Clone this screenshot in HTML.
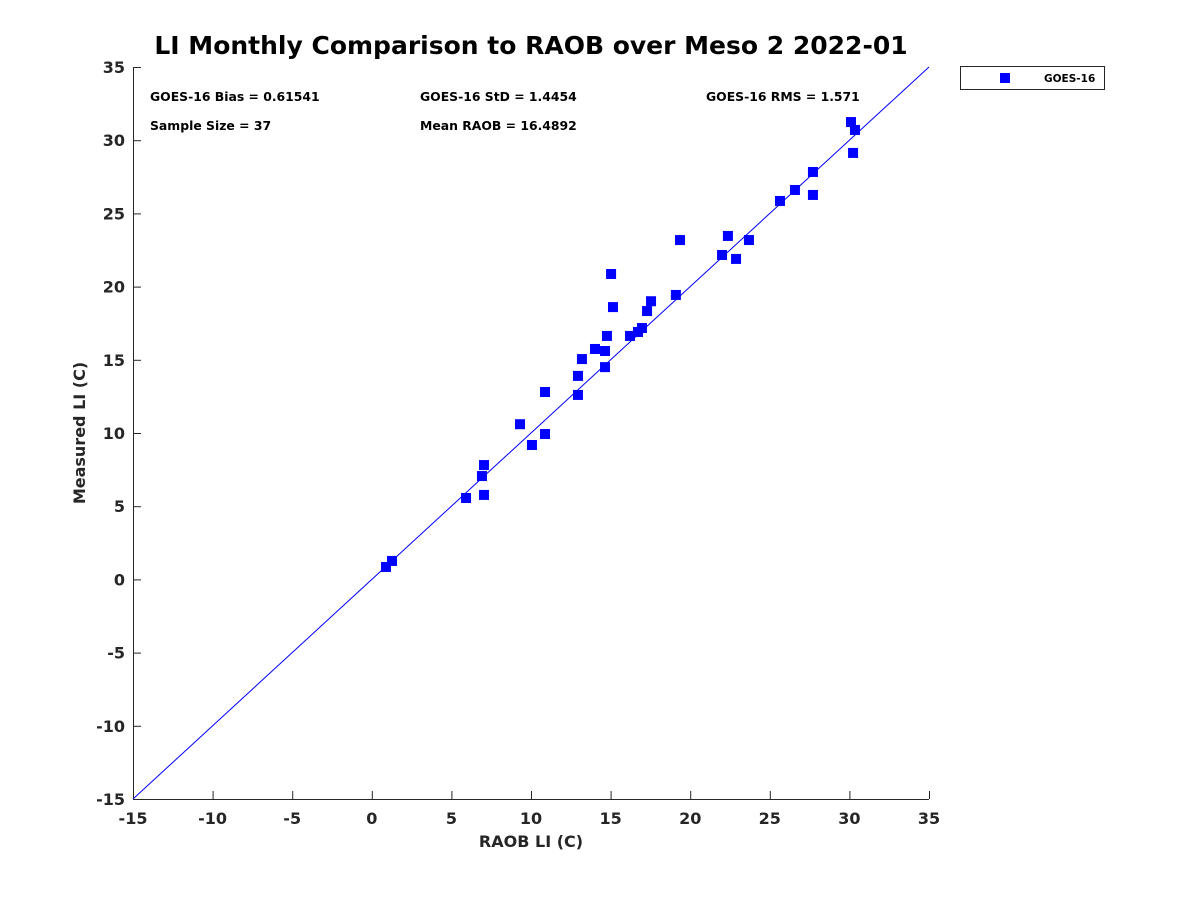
<!DOCTYPE html>
<html><head><meta charset="utf-8"><style>
body{margin:0;background:#fff;}
svg text{font-family:"DejaVu Sans","Liberation Sans",sans-serif;font-weight:bold;fill:#262626;}
</style></head><body>
<svg width="1200" height="900" viewBox="0 0 1200 900" id="chart">
<text x="531" y="54" font-size="25" text-anchor="middle" fill="#000" style="fill:#000">LI Monthly Comparison to RAOB over Meso 2 2022-01</text>
<g id="axes"></g>
<g id="marks"></g>
<text x="150" y="101" font-size="12.4" style="fill:#000">GOES-16 Bias = 0.61541</text>
<text x="420" y="101" font-size="12.4" style="fill:#000">GOES-16 StD = 1.4454</text>
<text x="706" y="101" font-size="12.4" style="fill:#000">GOES-16 RMS = 1.571</text>
<text x="150" y="130" font-size="12.4" style="fill:#000">Sample Size = 37</text>
<text x="420" y="130" font-size="12.4" style="fill:#000">Mean RAOB = 16.4892</text>
<text x="531" y="847" font-size="16" text-anchor="middle">RAOB LI (C)</text>
<text transform="translate(85,433) rotate(-90)" font-size="16" text-anchor="middle">Measured LI (C)</text>
<g>
<rect x="960.5" y="66.5" width="144" height="23" fill="#fff" stroke="#262626" stroke-width="1"/>
<rect x="1000" y="73" width="10" height="10" fill="#0000ff"/>
<text x="1044" y="82" font-size="10.5" style="fill:#000">GOES-16</text>
</g>
</svg>
<script>
const xTicks=[-15,-10,-5,0,5,10,15,20,25,30,35];
const yTicks=[-15,-10,-5,0,5,10,15,20,25,30,35];
const raob=[0.89,1.27,5.92,6.92,7.05,7.05,9.31,10.06,10.88,10.88,12.95,12.95,13.2,14.02,14.65,14.65,14.77,15.03,15.15,16.22,16.72,16.97,17.29,17.54,19.1,19.36,22.0,22.37,22.88,23.69,25.64,26.58,27.71,27.71,30.1,30.35,30.23];
const measured=[0.85,1.26,5.56,7.06,7.81,5.77,10.6,9.18,9.93,12.8,12.6,13.9,15.05,15.74,15.6,14.5,16.63,20.86,18.6,16.63,16.9,17.17,18.33,19.0,19.43,23.18,22.16,23.46,21.89,23.18,25.85,26.6,27.83,26.26,31.24,30.7,29.13];
const X0=133,X1=929,Y0=799,Y1=67,MIN=-15,MAX=35;
const sx=v=>X0+(v-MIN)/(MAX-MIN)*(X1-X0);
const sy=v=>Y0-(v-MIN)/(MAX-MIN)*(Y0-Y1);
const NS="http://www.w3.org/2000/svg";
const axes=document.getElementById('axes'),marks=document.getElementById('marks');
function mk(tag,attrs,parent){const e=document.createElementNS(NS,tag);for(const k in attrs)e.setAttribute(k,attrs[k]);parent.appendChild(e);return e;}
let l=mk('line',{x1:X0,y1:Y0+0.5,x2:X1,y2:Y0+0.5,stroke:'#262626'},axes);


l=mk('line',{x1:X0+0.5,y1:Y0,x2:X0+0.5,y2:Y1,stroke:'#262626'},axes);


xTicks.forEach(v=>{
 const t=mk('line',{x1:sx(v)+0.5,y1:Y0,x2:sx(v)+0.5,y2:Y0-8,stroke:'#262626'},axes);
 
 
 const tx=mk('text',{x:sx(v),y:Y0+25,'font-size':16,'text-anchor':'middle'},axes);
 tx.textContent=v;
 
 
});
yTicks.forEach(v=>{
 const t=mk('line',{x1:X0,y1:sy(v)+0.5,x2:X0+8,y2:sy(v)+0.5,stroke:'#262626'},axes);
 
 
 const tx=mk('text',{x:X0-8,y:sy(v)+6,'font-size':16,'text-anchor':'end'},axes);
 tx.textContent=v;
 
 
});
const ref=mk('line',{x1:sx(MIN),y1:sy(MIN),x2:sx(MAX),y2:sy(MAX),stroke:'#0000ff','stroke-width':1},marks);


raob.forEach((v,i)=>{
 const r=mk('rect',{x:sx(v)-5,y:sy(measured[i])-5,width:10,height:10,fill:'#0000ff'},marks);
 
 
});
</script>
</body></html>
